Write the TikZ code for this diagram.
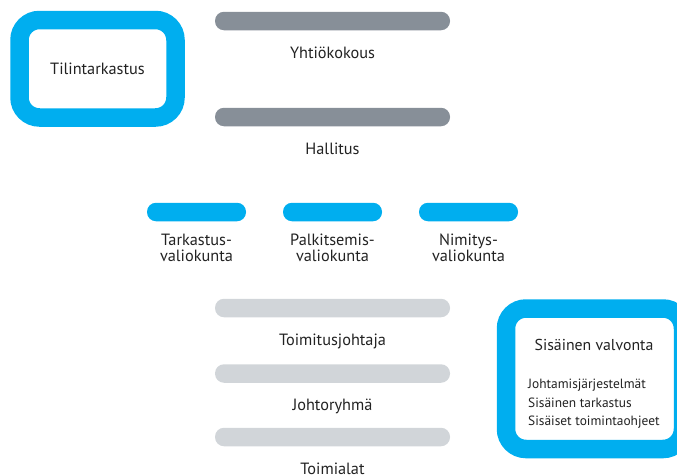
\documentclass[tikz,border=0pt]{standalone}
\usepackage{fontspec}
\setmainfont{PT Sans}
\definecolor{frameblue}{HTML}{00AEEF}
\definecolor{bardark}{HTML}{878F98}
\definecolor{barlight}{HTML}{D1D5D9}
\definecolor{txt}{HTML}{222222}
\begin{document}
\begin{tikzpicture}[x=1pt,y=-1pt,
  bar/.style={rectangle, rounded corners=9pt, minimum width=235pt, minimum height=18.5pt, inner sep=0pt, fill=#1},
  smallbar/.style={bar=frameblue, minimum width=99pt},
  lbl/.style={font=\fontsize{16.3}{16.5}\selectfont, text=txt, align=center, inner sep=0pt},
  undername/.style={lbl, anchor=base},
  frame/.style={rectangle, draw=frameblue, line width=18.5pt, rounded corners=20pt, inner sep=0pt, fill=white},
  item/.style={font=\fontsize{13.4}{18.5}\selectfont, text=txt, align=left, inner sep=0pt}]
\useasboundingbox (0,0) rectangle (677,474);

% governing bodies
\node[bar=bardark] (ykbar) at (332.5,21) {};
\node[undername] (yk) at (332.5,58.5) {Yhtiökokous};
\node[bar=bardark] (hbar) at (332.5,117) {};
\node[undername] (hal) at (332.5,154.5) {Hallitus};

% committees
\node[smallbar] (tvbar) at (196.5,212) {};
\node[lbl] (tv) at (196.5,248) {Tarkastus-\\valiokunta};
\node[smallbar] (pvbar) at (332.5,212) {};
\node[lbl] (pv) at (332.5,248) {Palkitsemis-\\valiokunta};
\node[smallbar] (nvbar) at (468.5,212) {};
\node[lbl] (nv) at (468.5,248) {Nimitys-\\valiokunta};

% operative management
\node[bar=barlight] (tjbar) at (332.5,308) {};
\node[undername] (tj) at (332.5,345.5) {Toimitusjohtaja};
\node[bar=barlight] (jrbar) at (332.5,373.5) {};
\node[undername] (jr) at (332.5,410.5) {Johtoryhmä};
\node[bar=barlight] (tabar) at (332.5,437) {};
\node[undername] (ta) at (332.5,474) {Toimialat};

% audit frame
\node[frame, minimum width=156pt, minimum height=97.5pt] (tt) at (97.5,68.75) {};
\node[lbl] (ttl) at (tt.center) {Tilintarkastus};

% internal control frame
\node[frame, minimum width=177pt, minimum height=140.5pt] (sv) at (594.5,378.75) {};
\node[lbl, font=\fontsize{15.8}{16.5}\selectfont] (svt) at (594,345) {Sisäinen valvonta};
\node[item, anchor=west] (svl) at (528,404) {Johtamisjärjestelmät\\Sisäinen tarkastus\\Sisäiset toimintaohjeet};
\end{tikzpicture}
\end{document}
